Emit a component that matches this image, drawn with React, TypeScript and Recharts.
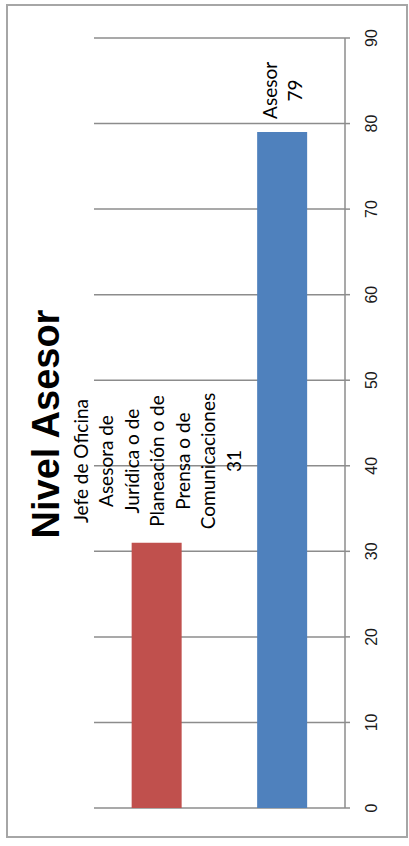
import { BarChart, Bar, XAxis, YAxis, CartesianGrid, Cell } from "recharts";

const categories = ["Jefe de Oficina Asesora de Jurídica o de Planeación o de Prensa o de Comunicaciones", "Asesor"];
const values = [31, 79];
const categoryLines = [
  ["Jefe de Oficina", "Asesora de", "Jurídica o de", "Planeación o de", "Prensa o de", "Comunicaciones"],
  ["Asesor"],
];
const barColors = ["#C0504D", "#4F81BD"];
const valueTicks = [0, 10, 20, 30, 40, 50, 60, 70, 80, 90];
const title = "Nivel Asesor";

const data = categories.map((c, i) => ({ name: c, value: values[i] }));

const W = 409;
const H = 846;

function ValueTick(props: any) {
  const { x, y, payload } = props;
  return (
    <text
      transform={`translate(${x + 19},${y}) rotate(-90)`}
      textAnchor="middle"
      dominantBaseline="central"
      fontFamily="'Liberation Sans', Arial, sans-serif"
      fontSize={16}
      fill="#1a1a1a"
    >
      {payload.value}
    </text>
  );
}

function BarLabel(props: any) {
  const { x, y, width, index } = props;
  const lines = [...categoryLines[index], String(values[index])];
  const maxChars = Math.max(...lines.map((l) => l.length));
  const cy = y - 15 - maxChars * 4.45;
  const cx = x + width / 2;
  const step = 25.5;
  return (
    <g>
      {lines.map((l, i) => (
        <text
          key={i}
          transform={`translate(${cx + (i - (lines.length - 1) / 2) * step},${cy}) rotate(-90)`}
          textAnchor="middle"
          dominantBaseline="central"
          fontFamily="Lato, 'Open Sans', sans-serif"
          fontSize={19}
          fill="#000"
        >
          {l}
        </text>
      ))}
    </g>
  );
}

export default function App() {
  return (
    <div style={{ position: "absolute", left: 0, top: 0, width: W, height: H, background: "#fff" }}>
      <svg width={W} height={H} style={{ position: "absolute", left: 0, top: 0 }}>
        <rect x={7} y={5} width={400} height={832} fill="#fff" stroke="#a6a6a6" strokeWidth={2} />
        <text
          transform="translate(46,424) rotate(-90)"
          textAnchor="middle"
          dominantBaseline="central"
          fontFamily="'Liberation Sans', Arial, sans-serif"
          fontWeight="bold"
          fontSize={38}
          fill="#000"
        >
          {title}
        </text>
      </svg>
      <div style={{ position: "absolute", left: 0, top: 0 }}>
        <BarChart
          width={W}
          height={H}
          data={data}
          margin={{ top: 38, right: 24, bottom: 38, left: 94 }}
          barCategoryGap="30%"
        >
          <CartesianGrid vertical={false} stroke="#8c8c8c" strokeWidth={1.5} />
          <XAxis dataKey="name" hide />
          <YAxis
            orientation="right"
            width={40}
            domain={[0, 90]}
            ticks={valueTicks}
            interval={0}
            axisLine={{ stroke: "#8c8c8c", strokeWidth: 1.5 }}
            tickLine={{ stroke: "#8c8c8c", strokeWidth: 1.5 }}
            tickSize={5}
            tick={<ValueTick />}
          />
          <Bar dataKey="value" isAnimationActive={false} label={<BarLabel />}>
            {data.map((_, i) => (
              <Cell key={i} fill={barColors[i]} />
            ))}
          </Bar>
        </BarChart>
      </div>
    </div>
  );
}
